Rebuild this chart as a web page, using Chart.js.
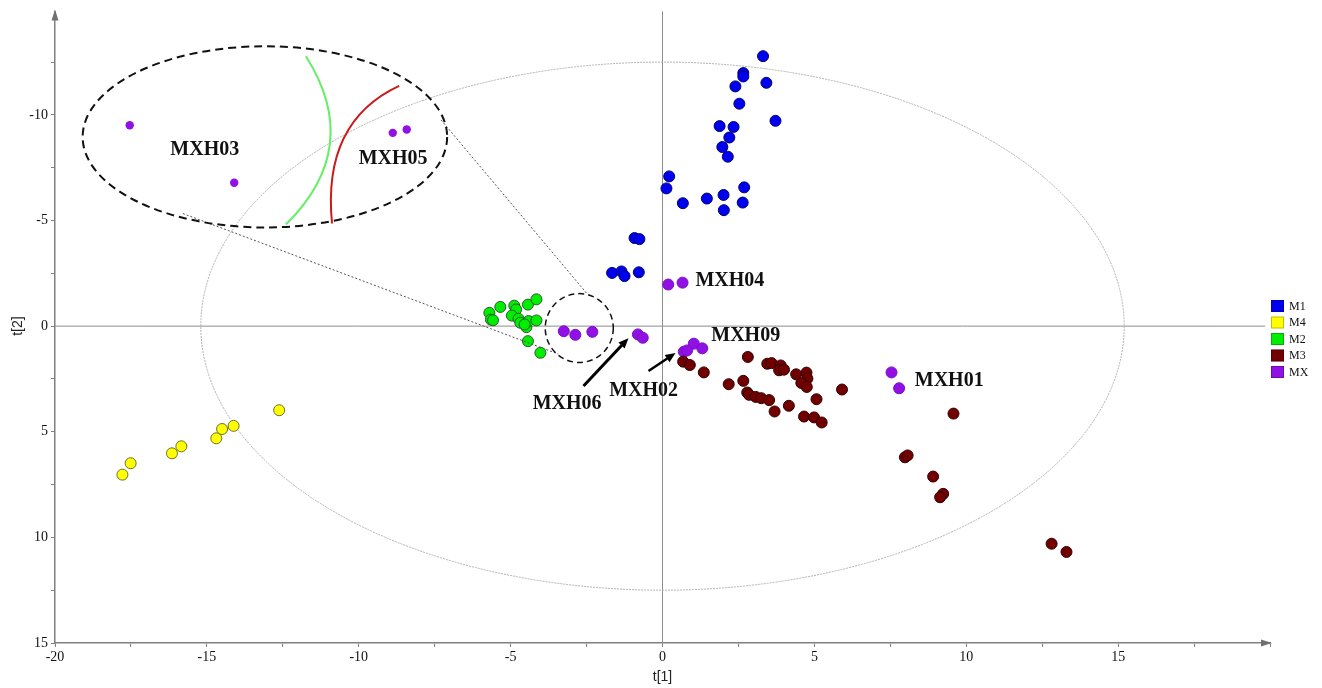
<!DOCTYPE html>
<html>
<head>
<meta charset="utf-8">
<script src="https://cdn.jsdelivr.net/npm/chart.js@4.4.1/dist/chart.umd.min.js"></script>
<style>
  html, body { margin: 0; padding: 0; background: #fff; }
  canvas { display: block; }
</style>
</head>
<body>
<canvas id="chart" width="1322" height="688"></canvas>
<script>
// score values, [t1, t2]
const M1 = [
  [3.31, -12.78], [2.66, -11.98], [2.66, -11.82], [3.42, -11.52], [2.40, -11.35],
  [2.53, -10.53], [3.72, -9.72], [1.88, -9.47], [2.34, -9.43], [2.20, -8.93],
  [1.97, -8.48], [2.15, -8.02], [0.22, -7.09], [0.13, -6.52], [0.67, -5.82],
  [1.46, -6.04], [2.01, -6.21], [2.69, -6.57], [2.64, -5.85], [2.02, -5.49],
  [-0.92, -4.17], [-0.76, -4.12], [-1.66, -2.52], [-1.35, -2.59], [-1.25, -2.37],
  [-0.78, -2.55]
];
const M4 = [
  [-17.78, 7.03], [-17.51, 6.49], [-16.15, 6.02], [-15.84, 5.69], [-14.69, 5.31],
  [-14.50, 4.87], [-14.12, 4.72], [-12.62, 3.98]
];
const M2 = [
  [-5.70, -0.63], [-5.65, -0.31], [-5.58, -0.28], [-5.34, -0.91], [-4.88, -0.97],
  [-4.82, -0.79], [-4.96, -0.50], [-4.74, -0.35], [-4.68, -0.16], [-4.48, 0.05],
  [-4.41, -0.24], [-4.43, -1.02], [-4.15, -1.27], [-4.15, -0.27], [-4.54, -0.08],
  [-4.43, 0.71], [-4.02, 1.26]
];
const M3 = [
  [2.81, 1.46], [0.68, 1.68], [0.90, 1.84], [1.36, 2.19], [3.45, 1.78],
  [3.59, 1.75], [3.89, 1.86], [3.84, 2.09], [4.00, 2.06], [4.40, 2.28],
  [4.74, 2.20], [4.77, 2.48], [4.57, 2.69], [4.75, 2.88], [2.18, 2.75],
  [2.66, 2.59], [2.79, 3.14], [2.85, 3.25], [3.07, 3.35], [3.25, 3.41],
  [3.51, 3.50], [5.07, 3.46], [5.91, 3.00], [3.69, 4.04], [4.16, 3.77],
  [4.66, 4.28], [4.99, 4.32], [5.24, 4.56], [9.58, 4.14], [7.98, 6.21],
  [8.07, 6.12], [8.91, 7.12], [9.24, 7.94], [9.14, 8.10], [12.81, 10.30],
  [13.30, 10.69]
];
const MX = [
  [-17.54, -9.51], [-14.10, -6.79], [-8.88, -9.15], [-8.42, -9.31],
  [0.19, -1.97], [0.66, -2.06], [-3.25, 0.24], [-2.87, 0.41], [-2.31, 0.27],
  [-0.81, 0.39], [-0.65, 0.55], [1.03, 0.83], [1.31, 1.05], [0.70, 1.21],
  [0.81, 1.15], [7.54, 2.19], [7.79, 2.94]
];

const GROUPS = ["M1", "M4", "M2", "M3", "MX"];
const GROUP_DATA = [M1, M4, M2, M3, MX];
const FILLS = ["#0000f0", "#ffff00", "#00ee00", "#720000", "#9010e6"];
const BORDERS = ["#00006a", "#6e6e2a", "#2a5a2a", "#2e0000", "#7a10c0"];

const X_TICKS = [-20, -17.5, -15, -12.5, -10, -7.5, -5, -2.5, 0, 2.5, 5, 7.5, 10, 12.5, 15, 17.5, 20];
const Y_TICKS = [-12.5, -10, -7.5, -5, -2.5, 0, 2.5, 5, 7.5, 10, 12.5, 15];

// sample labels, in data units
const LABELS = [
  ["MXH03", -15.07, -8.35], ["MXH05", -8.87, -7.92], ["MXH04", 2.22, -2.15],
  ["MXH09", 2.74, 0.47], ["MXH06", -3.14, 3.69], ["MXH02", -0.62, 3.07],
  ["MXH01", 9.44, 2.59]
];

// zoomed-in ellipse (centre and half axes, data units)
const ZOOM = { x: -13.09, y: -8.96, rx: 6.0, ry: 4.29 };

const SERIF = "'Liberation Serif', 'DejaVu Serif', serif";
const SANS = "'Liberation Sans', Arial, sans-serif";

const inZoom = (p) =>
  ((p.x - ZOOM.x) / ZOOM.rx) ** 2 + ((p.y - ZOOM.y) / ZOOM.ry) ** 2 < 1;

const annotations = {
  id: "annotations",
  beforeDatasetsDraw(chart) {
    const { ctx, chartArea: a, scales: { x, y } } = chart;
    ctx.save();
    // zero lines
    ctx.strokeStyle = "#8c8c8c";
    ctx.lineWidth = 1;
    ctx.beginPath();
    ctx.moveTo(a.left, y.getPixelForValue(0));
    ctx.lineTo(a.right - 5, y.getPixelForValue(0));
    ctx.moveTo(x.getPixelForValue(0), a.top);
    ctx.lineTo(x.getPixelForValue(0), a.bottom);
    ctx.stroke();
    // Hotelling T2 ellipse
    const cx = x.getPixelForValue(0), cy = y.getPixelForValue(0);
    ctx.strokeStyle = "#b0b0b0";
    ctx.setLineDash([2, 1]);
    ctx.beginPath();
    ctx.ellipse(cx, cy, x.getPixelForValue(15.2) - cx, y.getPixelForValue(12.5) - cy, 0, 0, Math.PI * 2);
    ctx.stroke();
    ctx.restore();
  },
  afterDatasetsDraw(chart) {
    const { ctx, scales: { x, y } } = chart;
    const px = v => x.getPixelForValue(v);
    const py = v => y.getPixelForValue(v);
    ctx.save();

    // zoom lines
    ctx.strokeStyle = "#555";
    ctx.lineWidth = 1;
    ctx.setLineDash([2, 2]);
    ctx.beginPath();
    ctx.moveTo(px(-15.79), py(-5.33)); ctx.lineTo(px(-3.43), py(1.32));
    ctx.moveTo(px(-7.29), py(-9.76)); ctx.lineTo(px(-2.47), py(-1.51));
    ctx.stroke();

    // dashed ellipses
    ctx.strokeStyle = "#111";
    ctx.lineWidth = 2;
    ctx.setLineDash([8, 5]);
    ctx.beginPath();
    ctx.ellipse(px(ZOOM.x), py(ZOOM.y), px(ZOOM.rx) - px(0), py(ZOOM.ry) - py(0), 0, 0, Math.PI * 2);
    ctx.stroke();
    ctx.lineWidth = 1.5;
    ctx.setLineDash([6, 4]);
    ctx.beginPath();
    ctx.ellipse(px(-2.74), py(0.09), px(1.12) - px(0), py(1.63) - py(0), 0, 0, Math.PI * 2);
    ctx.stroke();
    ctx.setLineDash([]);

    // green and red boundaries inside the zoom
    ctx.lineWidth = 2;
    ctx.strokeStyle = "#66ee66";
    ctx.beginPath();
    ctx.moveTo(px(-11.74), py(-12.78));
    ctx.quadraticCurveTo(px(-9.83), py(-8.47), px(-12.40), py(-4.81));
    ctx.stroke();
    ctx.strokeStyle = "#cc1a1a";
    ctx.beginPath();
    ctx.moveTo(px(-8.67), py(-11.37));
    ctx.quadraticCurveTo(px(-11.21), py(-9.67), px(-10.88), py(-4.86));
    ctx.stroke();

    // arrows
    const arrow = (x0, y0, x1, y1, w) => {
      const a0 = px(x0), b0 = py(y0), a1 = px(x1), b1 = py(y1);
      const ang = Math.atan2(b1 - b0, a1 - a0);
      const len = 11;
      ctx.strokeStyle = "#000";
      ctx.fillStyle = "#000";
      ctx.lineWidth = w;
      ctx.beginPath();
      ctx.moveTo(a0, b0);
      ctx.lineTo(a1 - Math.cos(ang) * len * 0.7, b1 - Math.sin(ang) * len * 0.7);
      ctx.stroke();
      ctx.beginPath();
      ctx.moveTo(a1, b1);
      ctx.lineTo(a1 - len * Math.cos(ang - 0.4), b1 - len * Math.sin(ang - 0.4));
      ctx.lineTo(a1 - len * Math.cos(ang + 0.4), b1 - len * Math.sin(ang + 0.4));
      ctx.closePath();
      ctx.fill();
    };
    arrow(-2.60, 2.83, -1.12, 0.57, 3);
    arrow(-0.46, 2.12, 0.43, 1.27, 2.5);

    // labels
    ctx.fillStyle = "#111";
    ctx.font = "bold 20px " + SERIF;
    ctx.textAlign = "center";
    ctx.textBaseline = "middle";
    LABELS.forEach(([t, lx, ly]) => ctx.fillText(t, px(lx), py(ly)));
    ctx.restore();
  },
  afterDraw(chart) {
    const { ctx, chartArea: a } = chart;
    ctx.save();
    // axis arrow heads
    ctx.fillStyle = "#707070";
    ctx.beginPath();
    ctx.moveTo(a.left, a.top - 2);
    ctx.lineTo(a.left - 3.5, a.top + 9);
    ctx.lineTo(a.left + 3.5, a.top + 9);
    ctx.fill();
    ctx.beginPath();
    ctx.moveTo(a.right + 2, a.bottom);
    ctx.lineTo(a.right - 9, a.bottom - 3.5);
    ctx.lineTo(a.right - 9, a.bottom + 3.5);
    ctx.fill();

    // axis titles
    ctx.fillStyle = "#222";
    ctx.font = "14px " + SANS;
    ctx.textAlign = "center";
    ctx.textBaseline = "middle";
    ctx.fillText("t[1]", chart.scales.x.getPixelForValue(0), 677);
    ctx.translate(18, chart.scales.y.getPixelForValue(0));
    ctx.rotate(-Math.PI / 2);
    ctx.fillText("t[2]", 0, 0);
    ctx.restore();

    // legend
    ctx.save();
    ctx.font = "12px " + SERIF;
    ctx.textBaseline = "middle";
    ctx.textAlign = "left";
    GROUPS.forEach((g, i) => {
      const top = 300 + i * 16.5;
      ctx.fillStyle = FILLS[i];
      ctx.fillRect(1271, top, 13, 12);
      ctx.strokeStyle = "rgba(0,0,0,0.25)";
      ctx.lineWidth = 1;
      ctx.strokeRect(1271.5, top + 0.5, 12, 11);
      ctx.fillStyle = "#111";
      ctx.fillText(g, 1289, top + 6.5);
    });
    ctx.restore();
  }
};

new Chart(document.getElementById("chart"), {
  type: "scatter",
  data: {
    datasets: GROUPS.map((g, i) => ({
      label: g,
      data: GROUP_DATA[i].map(([t1, t2]) => ({ x: t1, y: t2 })),
      backgroundColor: FILLS[i],
      borderColor: BORDERS[i],
      borderWidth: 1,
      // points shown inside the zoom ellipse are drawn smaller
      pointRadius: (c) => (c.raw && inZoom(c.raw) ? 4.2 : 5.5),
      pointBorderWidth: (c) => (c.raw && inZoom(c.raw) ? 0 : 1),
    })),
  },
  options: {
    responsive: false,
    animation: false,
    layout: { padding: { left: 0, right: 52, top: 10, bottom: 0 } },
    plugins: { legend: { display: false }, tooltip: { enabled: false } },
    scales: {
      x: {
        type: "linear",
        min: -20,
        max: 20,
        afterBuildTicks: (s) => { s.ticks = X_TICKS.map((v) => ({ value: v })); },
        afterFit: (s) => { s.height = 45; },
        ticks: {
          autoSkip: false,
          maxRotation: 0,
          padding: 2,
          color: "#111",
          font: { family: SERIF, size: 14 },
          callback: (v) => (v % 5 === 0 && v < 20 ? v : ""),
        },
        grid: { drawOnChartArea: false, tickLength: 4, color: "#808080" },
        border: { color: "#808080", width: 1.5 },
      },
      y: {
        type: "linear",
        reverse: true,
        min: -14.9,
        max: 15,
        afterBuildTicks: (s) => { s.ticks = Y_TICKS.map((v) => ({ value: v })); },
        afterFit: (s) => { s.width = 55; },
        ticks: {
          autoSkip: false,
          padding: 3,
          color: "#111",
          font: { family: SERIF, size: 14 },
          callback: (v) => (v % 5 === 0 ? v : ""),
        },
        grid: { drawOnChartArea: false, tickLength: 4, color: "#808080" },
        border: { color: "#808080", width: 1.5 },
      },
    },
  },
  plugins: [annotations],
});
</script>
</body>
</html>
